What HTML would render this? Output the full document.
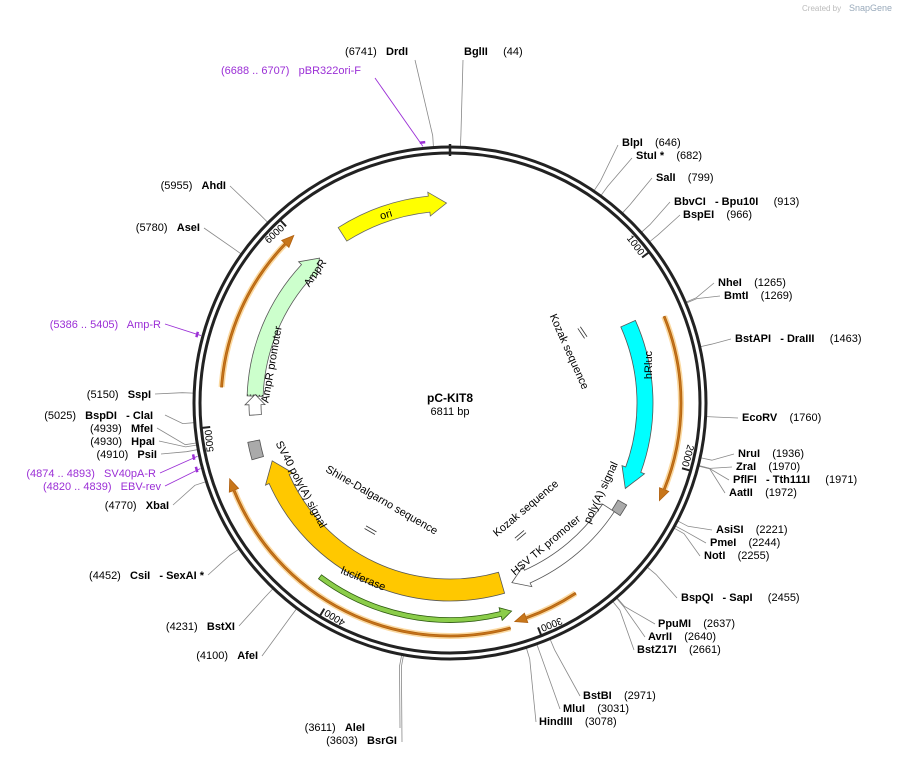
<!DOCTYPE html>
<html><head><meta charset="utf-8"><style>
body{margin:0;background:#fff;}
svg{font-family:"Liberation Sans",sans-serif;font-size:11px;}
svg text{white-space:pre;}
.b{font-weight:bold}
.p{fill:#9b2fd6}
</style></head><body>
<svg id="s" width="899" height="757" viewBox="0 0 899 757" xmlns="http://www.w3.org/2000/svg">
<text x="802" y="11" font-size="8" fill="#bbb">Created by</text><text x="849" y="11" font-size="9" fill="#9ab">SnapGene</text>
<g id="lines" stroke="#888" stroke-width="0.8" fill="none"></g>
<circle cx="450" cy="403" r="256" fill="none" stroke="#222" stroke-width="3"/>
<circle cx="450" cy="403" r="250" fill="none" stroke="#222" stroke-width="3"/>
<g id="shapes"></g>
<text x="450" y="402" text-anchor="middle" class="b" font-size="12">pC-KIT8</text>
<text x="450" y="415" text-anchor="middle" font-size="11">6811 bp</text>
<text x="464" y="55"><tspan class="b">BglII</tspan>     (44)</text>
<text x="408" y="55" text-anchor="end">(6741)   <tspan class="b">DrdI</tspan></text>
<text x="361" y="74" text-anchor="end" class="p">(6688 .. 6707)   pBR322ori-F</text>
<text x="622" y="146"><tspan class="b">BlpI</tspan>    (646)</text>
<text x="636" y="159"><tspan class="b">StuI *</tspan>    (682)</text>
<text x="656" y="181"><tspan class="b">SalI</tspan>    (799)</text>
<text x="674" y="205"><tspan class="b">BbvCI   - Bpu10I</tspan>     (913)</text>
<text x="683" y="218"><tspan class="b">BspEI</tspan>    (966)</text>
<text x="718" y="286"><tspan class="b">NheI</tspan>    (1265)</text>
<text x="724" y="299"><tspan class="b">BmtI</tspan>    (1269)</text>
<text x="735" y="342"><tspan class="b">BstAPI   - DraIII</tspan>     (1463)</text>
<text x="742" y="421"><tspan class="b">EcoRV</tspan>    (1760)</text>
<text x="738" y="457"><tspan class="b">NruI</tspan>    (1936)</text>
<text x="736" y="470"><tspan class="b">ZraI</tspan>    (1970)</text>
<text x="733" y="483"><tspan class="b">PflFI   - Tth111I</tspan>     (1971)</text>
<text x="729" y="496"><tspan class="b">AatII</tspan>    (1972)</text>
<text x="716" y="533"><tspan class="b">AsiSI</tspan>    (2221)</text>
<text x="710" y="546"><tspan class="b">PmeI</tspan>    (2244)</text>
<text x="704" y="559"><tspan class="b">NotI</tspan>    (2255)</text>
<text x="681" y="601"><tspan class="b">BspQI   - SapI</tspan>     (2455)</text>
<text x="658" y="627"><tspan class="b">PpuMI</tspan>    (2637)</text>
<text x="648" y="640"><tspan class="b">AvrII</tspan>    (2640)</text>
<text x="637" y="653"><tspan class="b">BstZ17I</tspan>    (2661)</text>
<text x="583" y="699"><tspan class="b">BstBI</tspan>    (2971)</text>
<text x="563" y="712"><tspan class="b">MluI</tspan>    (3031)</text>
<text x="539" y="725"><tspan class="b">HindIII</tspan>    (3078)</text>
<text x="365" y="731" text-anchor="end">(3611)   <tspan class="b">AleI</tspan></text>
<text x="397" y="744" text-anchor="end">(3603)   <tspan class="b">BsrGI</tspan></text>
<text x="258" y="659" text-anchor="end">(4100)   <tspan class="b">AfeI</tspan></text>
<text x="235" y="630" text-anchor="end">(4231)   <tspan class="b">BstXI</tspan></text>
<text x="204" y="579" text-anchor="end">(4452)   <tspan class="b">CsiI   - SexAI *</tspan></text>
<text x="169" y="509" text-anchor="end">(4770)   <tspan class="b">XbaI</tspan></text>
<text x="161" y="490" text-anchor="end" class="p">(4820 .. 4839)   EBV-rev</text>
<text x="156" y="477" text-anchor="end" class="p">(4874 .. 4893)   SV40pA-R</text>
<text x="157" y="458" text-anchor="end">(4910)   <tspan class="b">PsiI</tspan></text>
<text x="155" y="445" text-anchor="end">(4930)   <tspan class="b">HpaI</tspan></text>
<text x="153" y="432" text-anchor="end">(4939)   <tspan class="b">MfeI</tspan></text>
<text x="153" y="419" text-anchor="end">(5025)   <tspan class="b">BspDI   - ClaI</tspan></text>
<text x="151" y="398" text-anchor="end">(5150)   <tspan class="b">SspI</tspan></text>
<text x="161" y="328" text-anchor="end" class="p">(5386 .. 5405)   Amp-R</text>
<text x="200" y="231" text-anchor="end">(5780)   <tspan class="b">AseI</tspan></text>
<text x="226" y="189" text-anchor="end">(5955)   <tspan class="b">AhdI</tspan></text>
<text transform="translate(387,218) rotate(-17)" text-anchor="middle">ori</text>
<text transform="translate(318,275) rotate(-55)" text-anchor="middle">AmpR</text>
<text transform="translate(275,365) rotate(-80)" text-anchor="middle">AmpR promoter</text>
<text transform="translate(566,353) rotate(66)" text-anchor="middle">Kozak sequence</text>
<text transform="translate(652,365) rotate(-90)" text-anchor="middle">hRluc</text>
<text transform="translate(604,494) rotate(-65)" text-anchor="middle">poly(A) signal</text>
<text transform="translate(548,548) rotate(-40)" text-anchor="middle">HSV TK promoter</text>
<text transform="translate(528,511) rotate(-40)" text-anchor="middle">Kozak sequence</text>
<text transform="translate(362,582) rotate(22)" text-anchor="middle">luciferase</text>
<text transform="translate(380,503) rotate(30)" text-anchor="middle">Shine-Dalgarno sequence</text>
<text transform="translate(298,486) rotate(62)" text-anchor="middle">SV40 poly(A) signal</text>
<g id="ticks" font-size="10"></g>
</svg>
<script>
var NS="http://www.w3.org/2000/svg",cx=450,cy=403;
function P(r,a){a=a*Math.PI/180;return [cx+r*Math.sin(a),cy-r*Math.cos(a)];}
function el(p,t,at){var e=document.createElementNS(NS,t);for(var k in at)e.setAttribute(k,at[k]);document.getElementById(p).appendChild(e);return e;}
function pt(q){return q[0].toFixed(1)+","+q[1].toFixed(1);}
function arrow(r,w,a1,a2,h,fill,stroke){
 var dir=a2>a1?1:-1,b=a2-dir*h,ri=r-w/2,ro=r+w/2,hw=w/2+4;
 var sw=(dir>0)?1:0,lg=Math.abs(b-a1)>180?1:0;
 var d="M"+pt(P(ro,a1))+" A"+ro+","+ro+" 0 "+lg+" "+sw+" "+pt(P(ro,b))+
 " L"+pt(P(r+hw,b))+" L"+pt(P(r,a2))+" L"+pt(P(r-hw,b))+" L"+pt(P(ri,b))+
 " A"+ri+","+ri+" 0 "+lg+" "+(1-sw)+" "+pt(P(ri,a1))+" Z";
 el("shapes","path",{d:d,fill:fill,stroke:stroke,"stroke-width":0.8});
}
function box(r,w,a1,a2,fill){var d="M"+pt(P(r+w/2,a1))+" A"+(r+w/2)+","+(r+w/2)+" 0 0 1 "+pt(P(r+w/2,a2))+" L"+pt(P(r-w/2,a2))+" A"+(r-w/2)+","+(r-w/2)+" 0 0 0 "+pt(P(r-w/2,a1))+" Z";el("shapes","path",{d:d,fill:fill,stroke:"#555","stroke-width":0.8});}
function orange(r,a1,a2){
 var dir=a2>a1?1:-1;
 el("shapes","path",{d:"M"+pt(P(r,a1))+" A"+r+","+r+" 0 0 "+(dir>0?1:0)+" "+pt(P(r,a2-dir*2)),fill:"none",stroke:"#fbd9a0","stroke-width":6});
 arrow(r,2,a1,a2,3,"#c8761a","#b06010");
}
orange(229,274,317);orange(231,68,115);orange(228,146.6,163.5);orange(233,165,251);
arrow(200,16,327.5,359,5,"#ffff00","#666");
arrow(195,16,272,318,5,"#ccffcc","#555");
arrow(195,12,266.5,272.5,3,"#fff","#555");
el("shapes","path",{d:"M"+pt(P(187,272.3))+" L"+pt(P(203,272.3)),stroke:"#333","stroke-dasharray":"1.5,1.5"});
arrow(195,16,66,116,6,"#00ffff","#555");
box(199,10,120,123.5,"#aaa");
arrow(190,14,123.5,161,5,"#fff","#555");
arrow(187,22,164,252,6,"#ffc800","#555");
box(200,12,254,259,"#aaa");
arrow(217,5,216.8,163.5,3,"#8bcd4a","#2d5a10");
[[P(150,62),56],[P(150,152),-40],[P(150,212),30]].forEach(function(k){var q=k[0],a=k[1]*Math.PI/180,dx=Math.cos(a)*6,dy=Math.sin(a)*6;
 for(var o=-1.5;o<=1.5;o+=3)el("shapes","line",{x1:q[0]-dx+o*Math.sin(a),y1:q[1]-dy-o*Math.cos(a),x2:q[0]+dx+o*Math.sin(a),y2:q[1]+dy-o*Math.cos(a),stroke:"#333","stroke-width":0.8});});
var L=[[44,463,60],[6741,415,60],[646,618,145],[682,632,158],[799,652,178],[913,670,202],[966,680,215],[1265,714,283],[1269,720,296],[1463,731,339],[1760,738,418],[1936,734,454],[1970,732,467],[1971,729,480],[1972,725,493],[2221,712,530],[2244,706,543],[2255,700,556],[2455,677,598],[2637,655,624],[2640,645,637],[2661,634,650],[2971,580,696],[3031,560,709],[3078,536,722],[3611,400,728],[3603,402,742],[4100,262,656],[4231,239,626],[4452,208,575],[4770,173,505],[4910,161,454],[4930,159,441],[4939,157,428],[5025,165,415],[5150,155,394],[5780,204,228],[5955,230,186]];
L.forEach(function(l){var a=l[0]/6811*360,q=P(257,a),q2=P(268,a);el("lines","polyline",{points:pt(q)+" "+pt(q2)+" "+l[1]+","+l[2]});});
[[6697,375,78,"#9b2fd6"],[4830,165,486,"#9b2fd6"],[4883,160,473,"#9b2fd6"],[5395,165,324,"#9b2fd6"]].forEach(function(l){var a=l[0]/6811*360,q=P(258,a);
 el("shapes","line",{x1:q[0],y1:q[1],x2:l[1],y2:l[2],stroke:l[3],"stroke-width":0.9});
 var m1=P(262,a-0.6),m2=P(262,a+0.6);el("shapes","line",{x1:m1[0],y1:m1[1],x2:m2[0],y2:m2[1],stroke:l[3],"stroke-width":2.5});});
var t0=P(247,0);el("ticks","line",{x1:t0[0],y1:t0[1]-12,x2:t0[0],y2:t0[1],stroke:"#222","stroke-width":2.5});
for(var k=1;k<=6;k++){var a=k*1000/6811*360,q=P(249,a),q2=P(241,a);
 el("ticks","line",{x1:q[0],y1:q[1],x2:q2[0],y2:q2[1],stroke:"#222","stroke-width":2});
 var top=(a<90||a>270),tp,t;
 if(top){tp=P(240,a-0.6);t=el("ticks","text",{transform:"translate("+tp[0]+","+tp[1]+") rotate("+a+")","text-anchor":"end"});}
 else{tp=P(239,a-0.6);t=el("ticks","text",{transform:"translate("+tp[0]+","+tp[1]+") rotate("+(a-180)+")","text-anchor":"start",dy:"7"});}
 t.textContent=(k*1000)+"";}
</script>
</body></html>
